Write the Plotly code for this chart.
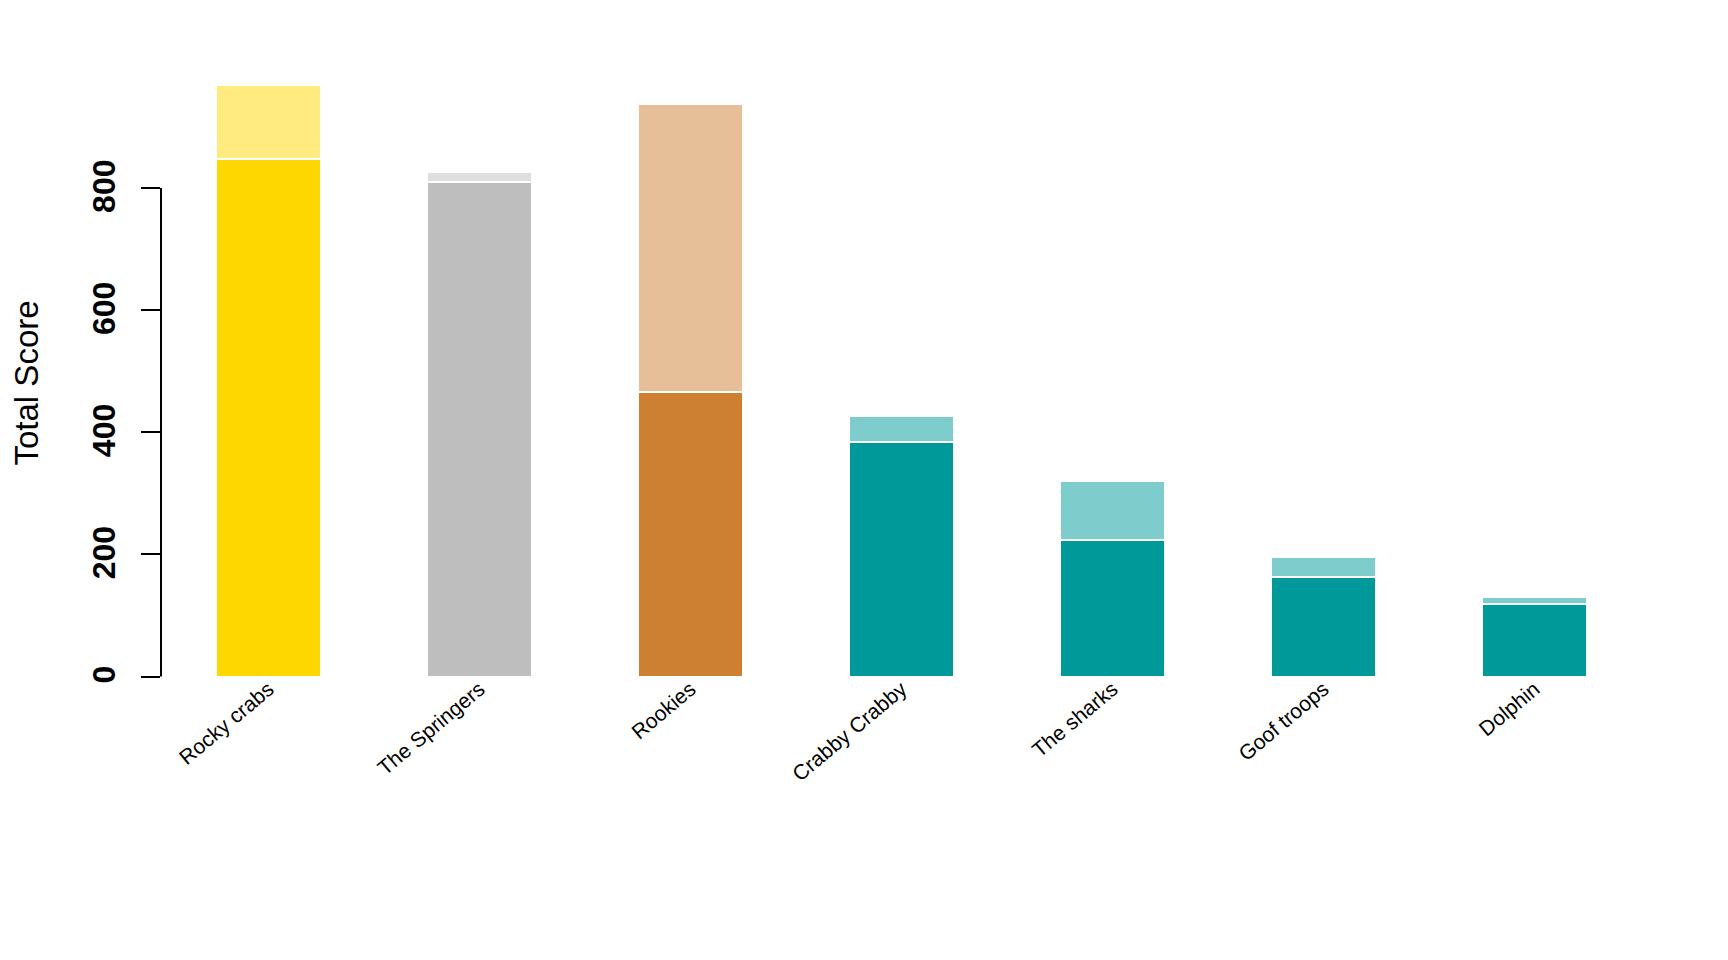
import plotly.graph_objects as go

teams = ["Rocky crabs", "The Springers", "Rookies", "Crabby Crabby",
         "The sharks", "Goof troops", "Dolphin"]
base_score = [847, 810, 466, 384, 224, 163, 118]
extra_score = [122, 17, 472, 43, 96, 32, 13]
base_colors = ["rgb(255,215,0)", "rgb(190,190,190)", "rgb(205,127,50)",
               "rgb(0,153,153)", "rgb(0,153,153)", "rgb(0,153,153)", "rgb(0,153,153)"]
extra_colors = ["rgba(255,215,0,0.5)", "rgba(190,190,190,0.5)", "rgba(205,127,50,0.5)",
                "rgba(0,153,153,0.5)", "rgba(0,153,153,0.5)", "rgba(0,153,153,0.5)",
                "rgba(0,153,153,0.5)"]
y_ticks = [0, 200, 400, 600, 800]

FONT = "Liberation Sans, Arial, sans-serif"

fig = go.Figure()
fig.add_trace(go.Bar(x=teams, y=base_score, width=0.5,
                     marker=dict(color=base_colors, line=dict(color="white", width=2)),
                     showlegend=False))
fig.add_trace(go.Bar(x=teams, y=extra_score, width=0.5,
                     marker=dict(color=extra_colors, line=dict(color="white", width=2)),
                     showlegend=False))

# page offset of 8px (default body margin)
OFF = 8
px_per_unit = (676.5 - 188.0) / 800.0
top_px, bottom_px, zero_px = 61.0, 680.0, 676.5
ymax = (zero_px - top_px) / px_per_unit
ymin = (zero_px - bottom_px) / px_per_unit
plot_h = bottom_px - top_px
label_px = 670.0
xaxis_pos = (bottom_px - label_px) / plot_h

fig.update_layout(
    barmode="stack",
    width=1728, height=960,
    margin=dict(l=161 - OFF, r=1728 - (1642 - OFF), t=int(top_px) - OFF,
                b=int(960 - (bottom_px - OFF)), autoexpand=False),
    paper_bgcolor="white", plot_bgcolor="white",
    font=dict(family=FONT, color="black"),
    xaxis=dict(range=[-0.51, 6.51], showline=False, showgrid=False, zeroline=False,
               ticks="", tickangle=-40, tickfont=dict(size=21, family=FONT),
               anchor="free", position=xaxis_pos, ticklabelstandoff=2),
    yaxis=dict(range=[ymin, ymax], showline=False, showgrid=False, zeroline=False,
               tickvals=y_ticks, ticks="outside", ticklen=19, tickwidth=2,
               tickcolor="black", tickangle=-90,
               tickfont=dict(size=32, family=FONT, weight="bold"),
               ticklabelstandoff=13, ticklabelshift=3),
    shapes=[dict(type="line", xref="paper", yref="y", x0=0, x1=0,
                 y0=y_ticks[0], y1=y_ticks[-1], line=dict(color="black", width=2))],
    annotations=[dict(text="Total Score", xref="paper", yref="paper", x=0, y=0.5,
                      xanchor="center", yanchor="middle", xshift=-135, yshift=-13,
                      textangle=-90, showarrow=False,
                      font=dict(size=33, family=FONT, color="black"))],
)

fig.write_html("out.html")
